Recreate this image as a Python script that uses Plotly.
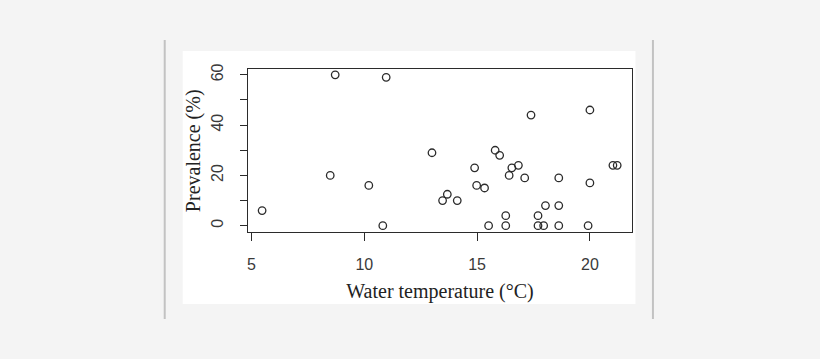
import plotly.graph_objects as go

# Data
water_temp = [5.47, 8.49, 8.71, 10.2, 10.82, 10.97, 13.0, 13.47, 13.68, 14.12,
              14.89, 14.98, 15.33, 15.51, 15.8, 16.0, 16.27, 16.27, 16.42, 16.54,
              16.83, 17.11, 17.39, 17.7, 17.7, 17.95, 18.03, 18.62, 18.62, 18.62,
              19.92, 20.0, 20.0, 21.02, 21.21]
prevalence = [6, 20, 60, 16, 0, 59, 29, 10, 12.5, 10,
              23, 16, 15, 0, 30, 28, 4, 0, 20, 23,
              24, 19, 44, 4, 0, 0, 8, 19, 8, 0,
              0, 17, 46, 24, 24]

x_ticks = [5, 10, 15, 20]
y_ticks = [0, 10, 20, 30, 40, 50, 60]
y_tick_text = ["0", "", "20", "", "40", "", "60"]
x_title = "Water temperature (°C)"
y_title = "Prevalence (%)"

W, H = 820, 359
L, R, T, B = 247.5, 632.5, 69, 232
pw, ph = R - L, B - T

def px(x):
    return (x - L) / pw

def py(y):
    return (B - y) / ph

ink = "#2b2b2b"

fig = go.Figure()
fig.add_trace(go.Scatter(
    x=water_temp, y=prevalence, mode="markers",
    marker=dict(symbol="circle-open", size=7.5, color=ink, line=dict(width=1.3, color=ink)),
    showlegend=False, cliponaxis=False, hoverinfo="skip",
))

fig.update_layout(
    width=W, height=H,
    margin=dict(l=L, r=W - R, t=T, b=H - B, pad=0),
    paper_bgcolor="#f4f4f4", plot_bgcolor="white",
    shapes=[
        dict(type="rect", xref="paper", yref="paper", x0=px(182), x1=px(636), y0=py(304), y1=py(51),
             fillcolor="white", line=dict(width=0), layer="below"),
        dict(type="line", xref="paper", yref="paper", x0=px(164), x1=px(164), y0=py(319), y1=py(40),
             line=dict(color="#c2c2c2", width=2)),
        dict(type="line", xref="paper", yref="paper", x0=px(653.5), x1=px(653.5), y0=py(319), y1=py(40),
             line=dict(color="#c2c2c2", width=2)),
    ],
    annotations=[
        dict(text=y_title, xref="paper", yref="paper", x=px(193), y=0.5,
             xanchor="center", yanchor="middle", showarrow=False, textangle=-90,
             font=dict(family="Liberation Serif, Times New Roman", size=20, color="#222")),
    ],
)

fig.update_xaxes(
    range=[4.845, 21.866], tickvals=x_ticks, ticktext=[str(v) for v in x_ticks],
    ticks="outside", ticklen=8, tickcolor=ink, tickwidth=1.2,
    showline=True, linecolor=ink, linewidth=1.3, mirror=True,
    showgrid=False, zeroline=False,
    tickfont=dict(family="Liberation Sans, Arial", size=16, color="#3a3a3a"),
    ticklabelstandoff=10,
    title=dict(text=x_title, standoff=11,
               font=dict(family="Liberation Serif, Times New Roman", size=20, color="#222")),
)
fig.update_yaxes(
    range=[-2.5, 62.3], tickvals=y_ticks, ticktext=y_tick_text,
    ticks="outside", ticklen=7, tickcolor=ink, tickwidth=1.2,
    showline=True, linecolor=ink, linewidth=1.3, mirror=True,
    showgrid=False, zeroline=False, tickangle=-90,
    tickfont=dict(family="Liberation Sans, Arial", size=16, color="#3a3a3a"),
    ticklabelstandoff=10,
)

fig.write_html("out.html", config={"displayModeBar": False},
               post_script="document.body.style.margin='0';document.body.style.overflow='hidden';")
